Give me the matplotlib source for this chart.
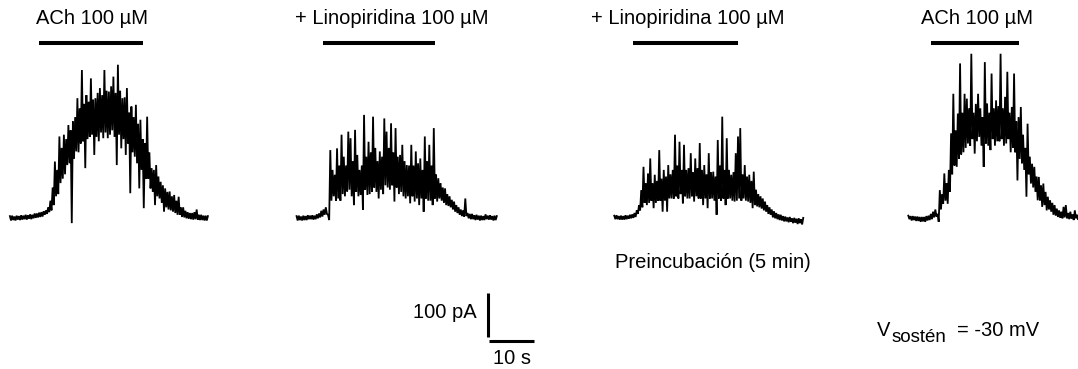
import numpy as np
import matplotlib
matplotlib.use("Agg")
import matplotlib.pyplot as plt

plt.rcParams['font.family'] = ['Liberation Sans', 'DejaVu Sans']

# current traces (pA), every 0.5 s:
# upper noise value at t, lower noise value at t + 0.25 s
dt = 0.5
ach_1_hi = [5, 6, 4, 6, 5, 7, 6, 8, 7, 9, 8, 11, 11, 13, 14, 16, 18, 25, 40, 70,
            129, 110, 186, 160, 190, 180, 212, 200, 220, 230, 273, 250, 337, 260, 280, 265,
            318, 270, 273, 285, 296, 280, 337, 290, 288, 300, 322, 285, 349, 290, 273, 275,
            296, 240, 254, 230, 258, 215, 224, 180, 170, 231, 150, 114, 110, 121, 95, 83,
            75, 68, 60, 61, 50, 53, 40, 49, 25, 25, 17, 14, 12, 12, 14, 20,
            8, 8, 6, 6, 5]
ach_1_lo = [-5, -4, -5, -3, -4, -3, -2, -3, -1, -2, 0, 1, 2, 3, 4, 8, 10, 14, 18, 30,
            50, 55, 80, 90, 100, 121, 125, -11, 135, 152, 150, 170, 175, 114, 180, 185,
            190, 144, 185, 175, 195, 182, 195, 182, 190, 200, 185, 121, 190, 159, 180, 144,
            170, 57, 150, 140, 125, 68, 110, 23, 90, 90, 68, 60, 30, 50, 45, 35,
            15, 25, 20, 18, 15, 12, 8, 8, 3, 2, 0, -1, -2, -3, -2, -3,
            -4, -4, -5, -5, -4]
lino_1_hi = [5, 6, 4, 6, 5, 7, 6, 7, 6, 9, 11, 17, 20, 25, 8, 155, 110, 99, 159, 120,
             190, 140, 120, 197, 182, 130, 201, 144, 110, 120, 235, 140, 174, 150, 231, 160,
             130, 152, 140, 227, 197, 160, 216, 150, 205, 140, 144, 167, 130, 121, 120, 167,
             120, 152, 125, 136, 110, 186, 130, 167, 120, 205, 100, 91, 80, 70, 68, 55,
             50, 42, 38, 30, 25, 20, 18, 45, 12, 10, 10, 7, 8, 6, 6, 5,
             9, 6, 7, 5, 6, 5]
lino_1_lo = [-5, -4, -5, -4, -4, -2, -2, -3, -2, 0, 2, 4, 8, 10, -4, 40, 50, 40, 45, 40,
             55, 50, 61, 65, 50, 30, 60, 50, 53, 19, 65, 53, 55, 60, 70, 60,
             45, 65, 55, 75, 70, 65, 75, 38, 70, 55, 60, 50, 45, 50, 34, 50,
             38, 45, 30, 45, 15, 45, 40, 40, 30, 45, 38, 45, 40, 35, 30, 28,
             25, 20, 15, 12, 8, 5, 4, 5, 0, -2, -2, -4, -3, -5, -4, -4,
             -2, -3, -3, -5, -4, -4]
lino_pre_hi = [6, 7, 5, 6, 5, 7, 6, 8, 9, 12, 18, 30, 64, 117, 80, 102, 136, 80, 99, 85,
               155, 90, 110, 95, 121, 100, 110, 190, 120, 174, 110, 167, 110, 114, 148, 105,
               136, 114, 171, 110, 121, 100, 148, 105, 106, 95, 178, 120, 231, 110, 182, 110,
               99, 105, 148, 186, 205, 100, 121, 95, 99, 85, 106, 65, 55, 50, 45, 38,
               30, 25, 20, 16, 12, 9, 8, 5, 4, 2, 3, 0, 1, -1, 0, -2, 1]
lino_pre_lo = [-2, -2, -3, -3, -3, -2, -1, 0, 1, 3, 10, 18, 25, 35, 30, 35, 40, 23, 35, 40,
               40, 15, 40, 15, 45, 45, 45, 50, 45, 55, 34, 50, 45, 45, 50, 38,
               50, 45, 45, 30, 45, 23, 45, 45, 40, 8, 45, 40, 45, 30, 45, 45,
               40, 38, 40, 45, 40, 45, 40, 38, 35, 23, 30, 27, 25, 22, 18, 15,
               10, 8, 2, 0, -2, -4, -5, -7, -7, -9, -8, -11, -10, -13, -11, -14, -8]
ach_2_hi = [6, 5, 5, 4, 4, 3, 3, 3, 5, 6, 10, 15, 20, 10, 64, 55, 102, 80, 110, 193,
            283, 200, 238, 352, 240, 283, 272, 250, 374, 240, 260, 283, 250, 230, 355, 261,
            240, 329, 250, 268, 255, 374, 250, 276, 333, 240, 253, 329, 220, 230, 253, 190,
            160, 215, 140, 124, 117, 95, 94, 75, 79, 60, 49, 41, 35, 30, 22, 18,
            15, 26, 30, 12, 15, 9, 18, 8, 9]
ach_2_lo = [-2, -5, -4, -6, -6, -8, -7, -8, -5, -4, -2, 2, 4, -8, 20, 33, 40, 33, 60, 100,
            120, 117, 135, 145, 150, 160, 170, 165, 180, 147, 175, 185, 165, 117, 170, 165,
            155, 180, 165, 175, 175, 180, 165, 170, 180, 150, 160, 150, 86, 135, 125, 110,
            49, 100, 79, 70, 60, 41, 40, 26, 30, 18, 20, 15, 8, 6, 3, 1,
            0, 2, 0, -2, -1, -4, 0, -3, 0]
traces = [(ach_1_hi, ach_1_lo), (lino_1_hi, lino_1_lo),
          (lino_pre_hi, lino_pre_lo), (ach_2_hi, ach_2_lo)]
trace_start = [2.2, 65.9, 136.5, 201.85]   # s

labels = ["ACh 100 µM", "+ Linopiridina 100 µM", "+ Linopiridina 100 µM", "ACh 100 µM"]
drug_on = [8.7, 71.8, 140.7, 206.9]        # s
drug_off = [31.8, 96.7, 164.0, 226.4]      # s

# scale: 4.5 px per s, 0.44 px per pA, trace baseline at 218.3 px from top
W, H = 1078, 369
px_s, px_pa, y0 = 4.5, 0.44, 218.3
fs = 14.5

fig = plt.figure(figsize=(W / 100, H / 100), dpi=100)
ax = fig.add_axes([0, 0, 1, 1])
ax.set_xlim(0, W / px_s)
ax.set_ylim(-(H - y0) / px_pa, y0 / px_pa)
ax.axis('off')

for i, (hi, lo) in enumerate(traces):
    k = np.arange(len(hi))
    t = np.column_stack((trace_start[i] + dt * k, trace_start[i] + dt * k + dt / 2)).ravel()
    y = np.column_stack((hi, lo)).ravel()
    ax.plot(t[:-1], y[:-1], color='black', lw=1.3, solid_joinstyle='miter')

bar_y = (y0 - 43) / px_pa
for i in range(4):
    ax.plot([drug_on[i], drug_off[i]], [bar_y, bar_y], color='black', lw=2.9,
            solid_capstyle='butt')

label_x = [92, 392, 688, 977]
for i in range(4):
    fig.text(label_x[i] / W, 1 - 19 / H, labels[i], ha='center', va='center', fontsize=fs)

# scale bar: 100 pA, 10 s
sb_x = 488.3 / px_s
sb_y = (y0 - 337) / px_pa
ax.plot([sb_x, sb_x], [sb_y, sb_y + 100], color='black', lw=2.2, solid_capstyle='butt')
ax.plot([sb_x + 0.1, sb_x + 10.1], [sb_y - 9, sb_y - 9], color='black', lw=2.2,
        solid_capstyle='butt')
fig.text(477 / W, 1 - 312 / H, "100 pA", ha='right', va='center', fontsize=fs)
fig.text(512 / W, 1 - 358 / H, "10 s", ha='center', va='center', fontsize=fs)

fig.text(713 / W, 1 - 262 / H, "Preincubación (5 min)", ha='center', va='center', fontsize=fs)
fig.text(877 / W, 1 - 331 / H, "V", ha='left', va='center', fontsize=fs)
fig.text(892 / W, 1 - 337 / H, "sostén", ha='left', va='center', fontsize=13.5)
fig.text(957 / W, 1 - 331 / H, "= -30 mV", ha='left', va='center', fontsize=fs)

fig.savefig("out.png", dpi=100)
